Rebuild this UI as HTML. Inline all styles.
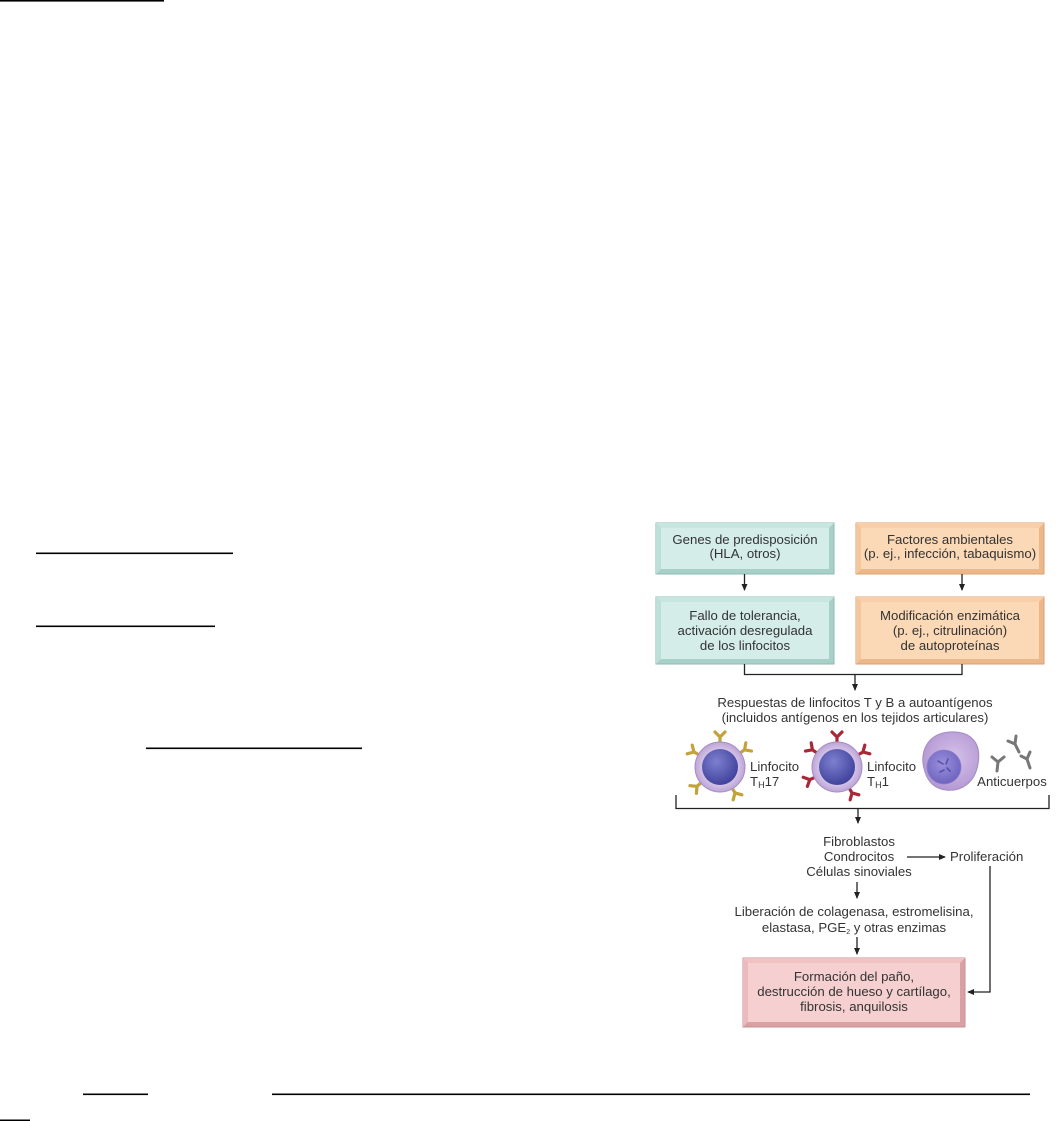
<!DOCTYPE html>
<html>
<head>
<meta charset="utf-8">
<style>
html,body{margin:0;padding:0;background:#fff;}
body{width:1060px;height:1121px;overflow:hidden;position:relative;}
svg{position:absolute;left:0;top:0;}
text{font-family:"Liberation Sans",Arial,sans-serif;font-size:13.2px;fill:#333;}
</style>
</head>
<body>
<svg width="1060" height="1121" viewBox="0 0 1060 1121" xmlns="http://www.w3.org/2000/svg">
<defs>
  <marker id="ah" markerWidth="8" markerHeight="8" refX="6" refY="3" orient="auto" markerUnits="userSpaceOnUse">
    <path d="M0,0 L7,3 L0,6 z" fill="#222"/>
  </marker>
  <radialGradient id="nuc" cx="40%" cy="35%" r="70%">
    <stop offset="0" stop-color="#7d80d0"/>
    <stop offset="1" stop-color="#3d3f99"/>
  </radialGradient>
  <radialGradient id="mem" cx="50%" cy="50%" r="55%">
    <stop offset="0.6" stop-color="#d9c8ea"/>
    <stop offset="1" stop-color="#b49ad0"/>
  </radialGradient>
  <radialGradient id="pl" cx="55%" cy="45%" r="60%">
    <stop offset="0" stop-color="#d6c2ea"/>
    <stop offset="1" stop-color="#b296d2"/>
  </radialGradient>
  <radialGradient id="pn" cx="45%" cy="40%" r="60%">
    <stop offset="0" stop-color="#9a90dc"/>
    <stop offset="1" stop-color="#6e64bf"/>
  </radialGradient>
  <g id="yy">
    <path d="M0,0 L0,-7 M0,-7 L-5,-12 M0,-7 L5,-12" stroke-width="3.2" stroke-linecap="round" fill="none"/>
  </g>
</defs>

<!-- left underline marks -->
<rect x="0" y="0" width="164" height="1.6" fill="#000"/>
<rect x="36" y="552.5" width="197" height="1.6" fill="#000"/>
<rect x="36" y="625.5" width="179" height="1.6" fill="#000"/>
<rect x="146" y="747.5" width="216" height="1.6" fill="#000"/>
<rect x="83" y="1093.5" width="65" height="1.6" fill="#000"/>
<rect x="272" y="1093.5" width="758" height="1.6" fill="#000"/>
<rect x="0" y="1119.5" width="30" height="1.6" fill="#000"/>

<!-- Box 1 teal -->
<g>
  <rect x="656" y="523" width="178" height="51" fill="#a7d0c8" stroke="#8fbab2" stroke-width="1"/>
  <polygon points="656,523 834,523 829,528 661,528" fill="#c7e6e0"/>
  <polygon points="656,523 661,528 661,569 656,574" fill="#bcdfd8"/>
  <rect x="661" y="528" width="168" height="41" fill="#d4ede8"/>
  <text x="745" y="544" text-anchor="middle">Genes de predisposición</text>
  <text x="745" y="558" text-anchor="middle">(HLA, otros)</text>
</g>
<!-- Box 2 orange -->
<g>
  <rect x="856" y="523" width="188" height="51" fill="#ecb88b" stroke="#dba276" stroke-width="1"/>
  <polygon points="856,523 1044,523 1039,528 861,528" fill="#f8cfa8"/>
  <polygon points="856,523 861,528 861,569 856,574" fill="#f4c69c"/>
  <rect x="861" y="528" width="178" height="41" fill="#fbd8b6"/>
  <text x="950" y="544" text-anchor="middle">Factores ambientales</text>
  <text x="950" y="558" text-anchor="middle">(p. ej., infección, tabaquismo)</text>
</g>
<!-- arrows between -->
<line x1="744.5" y1="574" x2="744.5" y2="590" stroke="#222" stroke-width="1.3" marker-end="url(#ah)"/>
<line x1="962" y1="574" x2="962" y2="590" stroke="#222" stroke-width="1.3" marker-end="url(#ah)"/>

<!-- Box 3 teal -->
<g>
  <rect x="656" y="597" width="178" height="67" fill="#a7d0c8" stroke="#8fbab2" stroke-width="1"/>
  <polygon points="656,597 834,597 829,602 661,602" fill="#c7e6e0"/>
  <polygon points="656,597 661,602 661,659 656,664" fill="#bcdfd8"/>
  <rect x="661" y="602" width="168" height="57" fill="#d4ede8"/>
  <text x="745" y="620" text-anchor="middle">Fallo de tolerancia,</text>
  <text x="745" y="635" text-anchor="middle">activación desregulada</text>
  <text x="745" y="650" text-anchor="middle">de los linfocitos</text>
</g>
<!-- Box 4 orange -->
<g>
  <rect x="856" y="597" width="188" height="67" fill="#ecb88b" stroke="#dba276" stroke-width="1"/>
  <polygon points="856,597 1044,597 1039,602 861,602" fill="#f8cfa8"/>
  <polygon points="856,597 861,602 861,659 856,664" fill="#f4c69c"/>
  <rect x="861" y="602" width="178" height="57" fill="#fbd8b6"/>
  <text x="950" y="620" text-anchor="middle">Modificación enzimática</text>
  <text x="950" y="635" text-anchor="middle">(p. ej., citrulinación)</text>
  <text x="950" y="650" text-anchor="middle">de autoproteínas</text>
</g>

<!-- merge connector -->
<polyline points="744.5,664 744.5,674.5 962,674.5 962,664" fill="none" stroke="#222" stroke-width="1.3"/>
<line x1="855" y1="674.5" x2="855" y2="690" stroke="#222" stroke-width="1.3" marker-end="url(#ah)"/>

<text x="855" y="707" text-anchor="middle">Respuestas de linfocitos T y B a autoantígenos</text>
<text x="855" y="722" text-anchor="middle">(incluidos antígenos en los tejidos articulares)</text>

<!-- TH17 cell -->
<g transform="translate(720,767)">
  <g stroke="#c4a23a">
    <use href="#yy" transform="rotate(0) translate(0,-23)"/>
    <use href="#yy" transform="rotate(55) translate(0,-23)"/>
    <use href="#yy" transform="rotate(150) translate(0,-23)"/>
    <use href="#yy" transform="rotate(-130) translate(0,-23)"/>
    <use href="#yy" transform="rotate(-60) translate(0,-23)"/>
  </g>
  <circle r="25" fill="url(#mem)" stroke="#a58cc4" stroke-width="1"/>
  <circle r="18" fill="url(#nuc)"/>
</g>
<text x="750" y="771">Linfocito</text>
<text x="750" y="786">T<tspan font-size="9" dy="2">H</tspan><tspan dy="-2">17</tspan></text>

<!-- TH1 cell -->
<g transform="translate(837,767)">
  <g stroke="#a82838">
    <use href="#yy" transform="rotate(0) translate(0,-23)"/>
    <use href="#yy" transform="rotate(60) translate(0,-23)"/>
    <use href="#yy" transform="rotate(150) translate(0,-23)"/>
    <use href="#yy" transform="rotate(-115) translate(0,-23)"/>
    <use href="#yy" transform="rotate(-55) translate(0,-23)"/>
  </g>
  <circle r="25" fill="url(#mem)" stroke="#a58cc4" stroke-width="1"/>
  <circle r="18" fill="url(#nuc)"/>
</g>
<text x="867" y="771">Linfocito</text>
<text x="867" y="786">T<tspan font-size="9" dy="2">H</tspan><tspan dy="-2">1</tspan></text>

<!-- Plasma cell -->
<path d="M925,772 C918,752 928,733 950,732 C970,731 982,742 978,764 C975,782 962,792 946,790 C935,789 928,782 925,772 Z" fill="url(#pl)" stroke="#a48bc4" stroke-width="1"/>
<circle cx="944" cy="767" r="17" fill="url(#pn)" stroke="#8a80cc" stroke-width="0.8"/>
<path d="M938,761 l5,3 M948,759 l-2,5 M940,772 l4,-2 M950,771 l-3,-3" stroke="#5a50a8" stroke-width="1.6" stroke-linecap="round"/>

<!-- Antibodies -->
<g stroke="#777" stroke-width="3" stroke-linecap="round" fill="none">
  <path d="M1019,752 l-4,-8 M1015,744 l-7,-3 M1015,744 l1,-8"/>
  <path d="M997,771 l1,-9 M998,762 l-6,-5 M998,762 l6,-5"/>
  <path d="M1030,768 l-3,-9 M1027,759 l-6,-3 M1027,759 l3,-7"/>
</g>
<text x="1012" y="786" text-anchor="middle">Anticuerpos</text>

<!-- bracket -->
<polyline points="676,795 676,808.5 1049,808.5 1049,795" fill="none" stroke="#222" stroke-width="1.3"/>
<line x1="858" y1="808.5" x2="858" y2="823" stroke="#222" stroke-width="1.3" marker-end="url(#ah)"/>

<text x="859" y="846" text-anchor="middle">Fibroblastos</text>
<text x="859" y="861" text-anchor="middle">Condrocitos</text>
<text x="859" y="876" text-anchor="middle">Células sinoviales</text>
<line x1="907" y1="857" x2="945" y2="857" stroke="#222" stroke-width="1.3" marker-end="url(#ah)"/>
<text x="950" y="861">Proliferación</text>

<line x1="857" y1="882" x2="857" y2="898" stroke="#222" stroke-width="1.3" marker-end="url(#ah)"/>
<text x="854" y="916" text-anchor="middle">Liberación de colagenasa, estromelisina,</text>
<text x="854" y="932" text-anchor="middle">elastasa, PGE<tspan font-size="7" dy="2">2</tspan><tspan dy="-2"> y otras enzimas</tspan></text>
<line x1="857" y1="937" x2="857" y2="954" stroke="#222" stroke-width="1.3" marker-end="url(#ah)"/>

<!-- Pink box -->
<g>
  <rect x="743" y="958" width="222" height="69" fill="#d9a1a3" stroke="#c98f92" stroke-width="1"/>
  <polygon points="743,958 965,958 960,963 748,963" fill="#f0c2c3"/>
  <polygon points="743,958 748,963 748,1022 743,1027" fill="#ebbabc"/>
  <rect x="748" y="963" width="212" height="59" fill="#f6d0d1"/>
  <text x="854" y="981" text-anchor="middle">Formación del paño,</text>
  <text x="854" y="996" text-anchor="middle">destrucción de hueso y cartílago,</text>
  <text x="854" y="1011" text-anchor="middle">fibrosis, anquilosis</text>
</g>

<!-- proliferation feedback -->
<polyline points="990,866 990,992 968,992" fill="none" stroke="#222" stroke-width="1.3" marker-end="url(#ah)"/>
</svg>
</body>
</html>
